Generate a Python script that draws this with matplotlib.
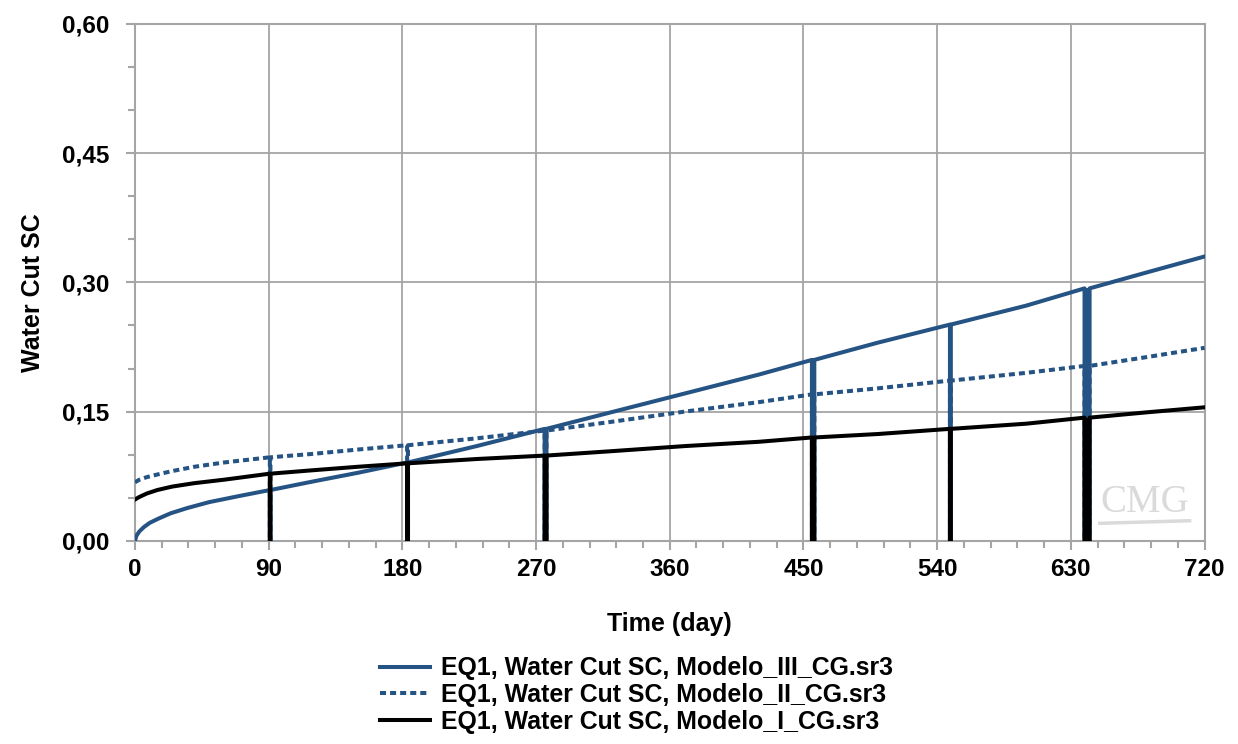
import numpy as np
import matplotlib
matplotlib.use('Agg')
from matplotlib import pyplot as plt
from matplotlib.ticker import MultipleLocator, FuncFormatter

# Water cut readings (day, fraction) for the three model runs.
t_iii = [0, 1, 3, 6, 10, 16, 24, 35, 50, 70, 91, 120, 150, 183.5, 230, 276.4,
         320, 370, 420, 456.5, 500, 548.9, 600, 640.9, 680, 720]
wc_iii = [0.0, 0.006, 0.011, 0.016, 0.021, 0.026, 0.032, 0.038, 0.045, 0.052,
          0.059, 0.069, 0.079, 0.091, 0.110, 0.130, 0.149, 0.171, 0.193, 0.210,
          0.230, 0.251, 0.273, 0.293, 0.311, 0.330]

t_ii = [0, 3, 8, 15, 25, 40, 60, 91, 120, 150, 183.5, 230, 276.4, 320, 370,
        420, 456.5, 500, 548.9, 600, 640.9, 680, 720]
wc_ii = [0.068, 0.071, 0.074, 0.077, 0.081, 0.086, 0.091, 0.097, 0.101, 0.106,
         0.111, 0.119, 0.128, 0.138, 0.150, 0.161, 0.170, 0.177, 0.186, 0.195,
         0.203, 0.213, 0.224]

t_i = [0, 3, 8, 15, 25, 40, 60, 91, 120, 150, 183.5, 230, 276.4, 320, 370,
       420, 456.5, 500, 548.9, 600, 640.9, 680, 720]
wc_i = [0.048, 0.051, 0.055, 0.059, 0.063, 0.067, 0.071, 0.078, 0.082, 0.086,
        0.090, 0.095, 0.099, 0.104, 0.110, 0.115, 0.120, 0.124, 0.130, 0.136,
        0.143, 0.149, 0.155]

# Shut-in days (water cut drops to zero) and how long each lasts.
shut_days = [91, 183.5, 276.4, 456.5, 548.9, 640.9]
shut_len = [0.4, 0.6, 1.2, 1.6, 0.6, 3.4]

labels = ['EQ1, Water Cut SC, Modelo_III_CG.sr3',
          'EQ1, Water Cut SC, Modelo_II_CG.sr3',
          'EQ1, Water Cut SC, Modelo_I_CG.sr3']


def with_shutins(t, v):
    xs, ys = [], []
    for ti, vi in zip(t, v):
        if ti in shut_days:
            w = shut_len[shut_days.index(ti)]
            xs += [ti - w / 2, ti - w / 2, ti + w / 2, ti + w / 2]
            ys += [vi, 0, 0, vi]
        else:
            xs.append(ti)
            ys.append(vi)
    return xs, ys


def shut_values(t, v):
    return [v[t.index(d)] for d in shut_days]


blue = '#255383'
grey = '#a5a5a5'
fs = 17.5

plt.rcParams['font.family'] = ['Liberation Sans', 'DejaVu Sans']

fig = plt.figure(figsize=(12.38, 7.44), dpi=100)
ax = fig.add_axes([0.109, 0.273, 0.864, 0.695])

lw = 2.9
x, y = with_shutins(t_iii, wc_iii)
ax.plot(x, y, color=blue, lw=lw, label=labels[0], zorder=3)
ax.bar(shut_days, shut_values(t_iii, wc_iii), width=shut_len, color=blue,
       lw=0, zorder=3)
x, y = with_shutins(t_ii, wc_ii)
ax.plot(x, y, color=blue, lw=lw, ls=(0, (1.5, 1.0)), label=labels[1], zorder=4)
x, y = with_shutins(t_i, wc_i)
ax.plot(x, y, color='black', lw=lw, label=labels[2], zorder=5)
ax.bar(shut_days, shut_values(t_i, wc_i), width=shut_len, color='black',
       lw=0, zorder=5)

ax.set_xlim(0, 720)
ax.set_ylim(0, 0.6)
ax.xaxis.set_major_locator(MultipleLocator(90))
ax.xaxis.set_minor_locator(MultipleLocator(18))
ax.yaxis.set_major_locator(MultipleLocator(0.15))
ax.yaxis.set_minor_locator(MultipleLocator(0.05))
ax.yaxis.set_major_formatter(FuncFormatter(lambda v, p: f'{v:.2f}'.replace('.', ',')))
ax.grid(True, which='major', color=grey, lw=1.3)
ax.set_axisbelow(True)
for s in ax.spines.values():
    s.set_color(grey)
    s.set_linewidth(1.5)
ax.tick_params(which='both', direction='out', color=grey, width=1.5, labelsize=fs)
ax.tick_params(which='major', length=6.5)
ax.tick_params(which='minor', length=5)
ax.tick_params(axis='y', pad=12)
ax.tick_params(axis='x', pad=6)
for lab in ax.get_xticklabels() + ax.get_yticklabels():
    lab.set_fontweight('bold')

ax.set_xlabel('Time (day)', fontsize=18, fontweight='bold', labelpad=22)
ax.set_ylabel('Water Cut SC', fontsize=18, fontweight='bold')
ax.yaxis.set_label_coords(-0.084, 0.48)

# CMG watermark
ax.text(0.944, 0.074, 'CMG', transform=ax.transAxes, ha='center', va='center',
        fontsize=28, color='#dadada', family='Liberation Serif')
ax.plot([0.902, 0.986], [0.034, 0.039], transform=ax.transAxes, color='#dadada',
        lw=2.5, zorder=1)

fig.legend(loc='upper left', bbox_to_anchor=(0.307, 0.118), frameon=False,
           prop={'size': 17.9, 'weight': 'bold'}, handlelength=2.0,
           handletextpad=0.45, labelspacing=0.12, borderaxespad=0, borderpad=0)

fig.savefig('out.png', dpi=100)
